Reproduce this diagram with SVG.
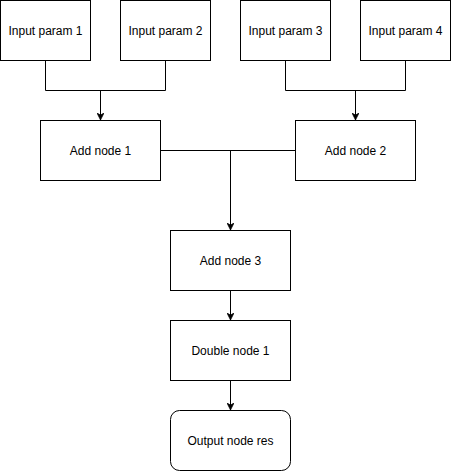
<svg xmlns="http://www.w3.org/2000/svg" width="451" height="471" viewBox="0 0 451 471">
<style>
.n{fill:#fff;stroke:#000;stroke-width:1}
.t{font-family:"Liberation Sans",Arial,sans-serif;font-size:12px;fill:#000;text-anchor:middle;dominant-baseline:central}
.e{fill:none;stroke:#000;stroke-width:1}
</style>
<defs>
<marker id="a" viewBox="0 0 10 10" refX="10" refY="5" markerWidth="7" markerHeight="7" markerUnits="userSpaceOnUse" orient="auto">
<path d="M0,0 L10,5 L0,10 L3,5 Z" fill="#000" stroke="#000" stroke-width="1"/>
</marker>
</defs>
<rect width="451" height="471" fill="#fff"/>
<g id="connectors">
<path class="e" d="M45.5,60.5 V90.5 H165.5 V60.5"/>
<path class="e" d="M100.5,90.5 V120" marker-end="url(#a)"/>
<path class="e" d="M285.5,60.5 V90.5 H405.5 V60.5"/>
<path class="e" d="M355.5,90.5 V120" marker-end="url(#a)"/>
<path class="e" d="M160.5,150.5 H295.5"/>
<path class="e" d="M230.5,150.5 V230" marker-end="url(#a)"/>
<path class="e" d="M230.5,290.5 V320" marker-end="url(#a)"/>
<path class="e" d="M230.5,380.5 V410" marker-end="url(#a)"/>
</g>
<g id="input1"><rect class="n" x="0.5" y="0.5" width="90" height="60"/><text class="t" x="45.5" y="30.5">Input param 1</text></g>
<g id="input2"><rect class="n" x="120.5" y="0.5" width="90" height="60"/><text class="t" x="165.5" y="30.5">Input param 2</text></g>
<g id="input3"><rect class="n" x="240.5" y="0.5" width="90" height="60"/><text class="t" x="285.5" y="30.5">Input param 3</text></g>
<g id="input4"><rect class="n" x="360.5" y="0.5" width="90" height="60"/><text class="t" x="405.5" y="30.5">Input param 4</text></g>
<g id="add1"><rect class="n" x="40.5" y="120.5" width="120" height="60"/><text class="t" x="100.5" y="150.5">Add node 1</text></g>
<g id="add2"><rect class="n" x="295.5" y="120.5" width="120" height="60"/><text class="t" x="355.5" y="150.5">Add node 2</text></g>
<g id="add3"><rect class="n" x="170.5" y="230.5" width="120" height="60"/><text class="t" x="230.5" y="260.5">Add node 3</text></g>
<g id="double1"><rect class="n" x="170.5" y="320.5" width="120" height="60"/><text class="t" x="230.5" y="350.5">Double node 1</text></g>
<g id="output"><rect class="n" x="170.5" y="410.5" width="120" height="60" rx="9" ry="9"/><text class="t" x="230.5" y="440.5">Output node res</text></g>
</svg>
